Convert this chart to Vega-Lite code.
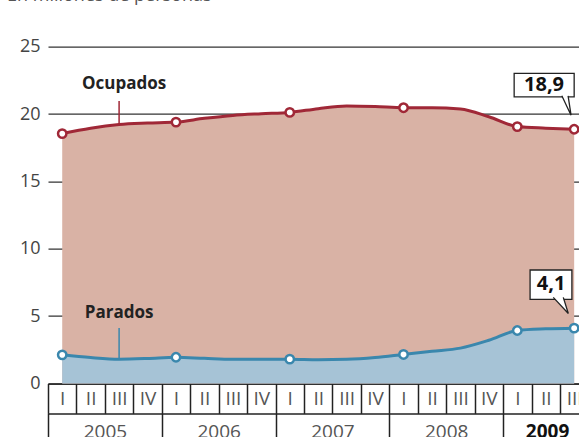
{
  "$schema": "https://vega.github.io/schema/vega-lite/v6.json",
  "autosize": {"type": "none"},
  "padding": {"left": 48, "top": 46.7, "right": 0, "bottom": 53.6},
  "width": 531,
  "height": 336.7,
  "background": "white",
  "config": {
    "view": {"stroke": null},
    "font": "Open Sans",
    "locale": {"number": {"decimal": ",", "thousands": ".", "grouping": [3], "currency": ["", " €"]}}
  },
  "title": {
    "text": "En millones de personas", "anchor": "start", "frame": "group", "orient": "top",
    "fontSize": 18, "fontWeight": "normal", "color": "#555555", "font": "Open Sans",
    "dx": -41, "offset": 19, "baseline": "alphabetic"
  },
  "data": {"values": [
    {"q": 0, "anio": 2005, "trimestre": "I", "ocupados": 18.55, "parados": 2.12},
    {"q": 1, "anio": 2005, "trimestre": "II", "ocupados": 18.95, "parados": 1.92},
    {"q": 2, "anio": 2005, "trimestre": "III", "ocupados": 19.22, "parados": 1.80},
    {"q": 3, "anio": 2005, "trimestre": "IV", "ocupados": 19.33, "parados": 1.85},
    {"q": 4, "anio": 2006, "trimestre": "I", "ocupados": 19.40, "parados": 1.94},
    {"q": 5, "anio": 2006, "trimestre": "II", "ocupados": 19.68, "parados": 1.86},
    {"q": 6, "anio": 2006, "trimestre": "III", "ocupados": 19.90, "parados": 1.79},
    {"q": 7, "anio": 2006, "trimestre": "IV", "ocupados": 20.02, "parados": 1.80},
    {"q": 8, "anio": 2007, "trimestre": "I", "ocupados": 20.12, "parados": 1.80},
    {"q": 9, "anio": 2007, "trimestre": "II", "ocupados": 20.40, "parados": 1.76},
    {"q": 10, "anio": 2007, "trimestre": "III", "ocupados": 20.60, "parados": 1.79},
    {"q": 11, "anio": 2007, "trimestre": "IV", "ocupados": 20.56, "parados": 1.92},
    {"q": 12, "anio": 2008, "trimestre": "I", "ocupados": 20.47, "parados": 2.15},
    {"q": 13, "anio": 2008, "trimestre": "II", "ocupados": 20.47, "parados": 2.38},
    {"q": 14, "anio": 2008, "trimestre": "III", "ocupados": 20.38, "parados": 2.62},
    {"q": 15, "anio": 2008, "trimestre": "IV", "ocupados": 19.80, "parados": 3.20},
    {"q": 16, "anio": 2009, "trimestre": "I", "ocupados": 19.07, "parados": 3.93},
    {"q": 17, "anio": 2009, "trimestre": "II", "ocupados": 18.95, "parados": 4.05},
    {"q": 18, "anio": 2009, "trimestre": "III", "ocupados": 18.87, "parados": 4.10}
  ]},
  "resolve": {"axis": {"x": "independent"}},
  "layer": [
    {
      "mark": {"type": "area", "interpolate": "monotone", "color": "#d9b2a5"},
      "encoding": {
        "x": {"field": "q", "type": "quantitative", "title": null,
          "scale": {"domain": [-0.5, 18.17], "nice": false, "zero": false},
          "axis": {
            "orient": "bottom",
            "values": [-0.5, 0.5, 1.5, 2.5, 3.5, 4.5, 5.5, 6.5, 7.5, 8.5, 9.5, 10.5, 11.5, 12.5, 13.5, 14.5, 15.5, 16.5, 17.5],
            "domain": true, "domainColor": "#222222", "domainWidth": 1.5,
            "ticks": true, "tickSize": 30, "tickColor": "#222222", "tickWidth": 1.5,
            "labelExpr": "['I','II','III','IV'][(datum.value + 0.5) % 4]",
            "labelOffset": 14.22, "labelPadding": -15, "labelBaseline": "middle", "labelAlign": "center",
            "labelFontSize": 19, "labelColor": "#555555", "labelFont": "Open Sans",
            "labelOverlap": false, "labelFlush": false, "labelBound": false,
            "grid": false, "title": null
          }
        },
        "y": {"field": "ocupados", "type": "quantitative", "title": null,
          "scale": {"domain": [0, 25], "nice": false},
          "axis": {
            "values": [0, 5, 10, 15, 20, 25],
            "grid": true, "gridColor": "#333333", "gridWidth": 1.3,
            "domain": false, "ticks": false, "labelPadding": 8,
            "labelFontSize": 18, "labelColor": "#444444", "labelFont": "Open Sans",
            "title": null
          }
        }
      }
    },
    {
      "mark": {"type": "area", "interpolate": "monotone", "color": "#a6c3d6"},
      "encoding": {
        "x": {"field": "q", "type": "quantitative", "title": null,
          "axis": {
            "orient": "bottom", "offset": 30,
            "values": [-0.5, 3.5, 7.5, 11.5, 15.5],
            "domain": true, "domainColor": "#222222", "domainWidth": 1.5,
            "ticks": true, "tickSize": 30, "tickColor": "#222222", "tickWidth": 1.5,
            "labelExpr": "'' + (2005 + (datum.value + 0.5) / 4)",
            "labelOffset": {"condition": {"test": "datum.value == 15.5", "value": 44}, "value": 56.9},
            "labelPadding": -11.5, "labelBaseline": "middle", "labelAlign": "center",
            "labelFontSize": 19, "labelFont": "Open Sans",
            "labelColor": {"condition": {"test": "datum.value == 15.5", "value": "#111111"}, "value": "#555555"},
            "labelFontWeight": {"condition": {"test": "datum.value == 15.5", "value": "bold"}, "value": "normal"},
            "labelOverlap": false, "labelFlush": false, "labelBound": false,
            "grid": false, "title": null
          }
        },
        "y": {"field": "parados", "type": "quantitative", "title": null}
      }
    },
    {
      "transform": [{"filter": "datum.q == 2"}],
      "mark": {"type": "rule", "color": "#a02837", "strokeWidth": 1.5},
      "encoding": {
        "x": {"field": "q", "type": "quantitative", "axis": null},
        "y": {"field": "ocupados", "type": "quantitative", "title": null},
        "y2": {"datum": 20.97}
      }
    },
    {
      "transform": [{"filter": "datum.q == 2"}],
      "mark": {"type": "rule", "color": "#3a87ad", "strokeWidth": 1.5},
      "encoding": {
        "x": {"field": "q", "type": "quantitative", "axis": null},
        "y": {"field": "parados", "type": "quantitative", "title": null},
        "y2": {"datum": 4.11}
      }
    },
    {
      "mark": {"type": "line", "interpolate": "monotone", "color": "#a02837", "strokeWidth": 3},
      "encoding": {
        "x": {"field": "q", "type": "quantitative", "axis": null},
        "y": {"field": "ocupados", "type": "quantitative", "title": null}
      }
    },
    {
      "mark": {"type": "line", "interpolate": "monotone", "color": "#3a87ad", "strokeWidth": 3},
      "encoding": {
        "x": {"field": "q", "type": "quantitative", "axis": null},
        "y": {"field": "parados", "type": "quantitative", "title": null}
      }
    },
    {
      "transform": [{"filter": "datum.q % 4 == 0 || datum.q == 18"}],
      "mark": {"type": "point", "filled": true, "fill": "white", "stroke": "#a02837", "strokeWidth": 2.5, "size": 70, "opacity": 1},
      "encoding": {
        "x": {"field": "q", "type": "quantitative", "axis": null},
        "y": {"field": "ocupados", "type": "quantitative", "title": null}
      }
    },
    {
      "transform": [{"filter": "datum.q % 4 == 0 || datum.q == 18"}],
      "mark": {"type": "point", "filled": true, "fill": "white", "stroke": "#3a87ad", "strokeWidth": 2.5, "size": 70, "opacity": 1},
      "encoding": {
        "x": {"field": "q", "type": "quantitative", "axis": null},
        "y": {"field": "parados", "type": "quantitative", "title": null}
      }
    },
    {
      "transform": [{"filter": "datum.q == 2"}],
      "mark": {"type": "text", "fontWeight": "bold", "fontSize": 17, "color": "#222222", "font": "Open Sans", "baseline": "middle", "align": "center", "dx": 5},
      "encoding": {
        "x": {"field": "q", "type": "quantitative", "axis": null},
        "y": {"datum": 22.2},
        "text": {"value": "Ocupados"}
      }
    },
    {
      "transform": [{"filter": "datum.q == 2"}],
      "mark": {"type": "text", "fontWeight": "bold", "fontSize": 17, "color": "#222222", "font": "Open Sans", "baseline": "middle", "align": "center"},
      "encoding": {
        "x": {"field": "q", "type": "quantitative", "axis": null},
        "y": {"datum": 5.23},
        "text": {"value": "Parados"}
      }
    },
    {
      "transform": [{"filter": "datum.q == 18"}],
      "mark": {"type": "rect", "fill": "white", "stroke": "#222222", "strokeWidth": 1.3},
      "encoding": {
        "x": {"datum": 15.89, "axis": null}, "x2": {"datum": 18.0},
        "y": {"datum": 23.02}, "y2": {"datum": 21.28}
      }
    },
    {
      "transform": [{"filter": "datum.q == 18"}],
      "mark": {"type": "point", "shape": "M-0.49,-1.08L0.48,0.96L0.17,-1.08", "filled": true, "fill": "white", "stroke": "#222222", "strokeWidth": 1.3, "size": 361, "opacity": 1},
      "encoding": {
        "x": {"datum": 17.73, "axis": null},
        "y": {"datum": 20.59}
      }
    },
    {
      "transform": [{"filter": "datum.q == 18"}],
      "mark": {"type": "text", "fontWeight": "bold", "fontSize": 20, "color": "#111111", "font": "Open Sans", "baseline": "middle", "align": "center"},
      "encoding": {
        "x": {"datum": 16.94, "axis": null},
        "y": {"datum": 22.17},
        "text": {"field": "ocupados", "type": "quantitative", "format": ".1f"}
      }
    },
    {
      "transform": [{"filter": "datum.q == 18"}],
      "mark": {"type": "rect", "fill": "white", "stroke": "#222222", "strokeWidth": 1.3},
      "encoding": {
        "x": {"datum": 16.45, "axis": null}, "x2": {"datum": 17.92},
        "y": {"datum": 8.42}, "y2": {"datum": 6.24}
      }
    },
    {
      "transform": [{"filter": "datum.q == 18"}],
      "mark": {"type": "point", "shape": "M-0.94,-1.12L0.94,0.9L0.31,-1.12", "filled": true, "fill": "white", "stroke": "#222222", "strokeWidth": 1.3, "size": 256, "opacity": 1},
      "encoding": {
        "x": {"datum": 17.53, "axis": null},
        "y": {"datum": 5.72}
      }
    },
    {
      "transform": [{"filter": "datum.q == 18"}],
      "mark": {"type": "text", "fontWeight": "bold", "fontSize": 20, "color": "#111111", "font": "Open Sans", "baseline": "middle", "align": "center"},
      "encoding": {
        "x": {"datum": 17.19, "axis": null},
        "y": {"datum": 7.38},
        "text": {"field": "parados", "type": "quantitative", "format": ".1f"}
      }
    }
  ]
}
